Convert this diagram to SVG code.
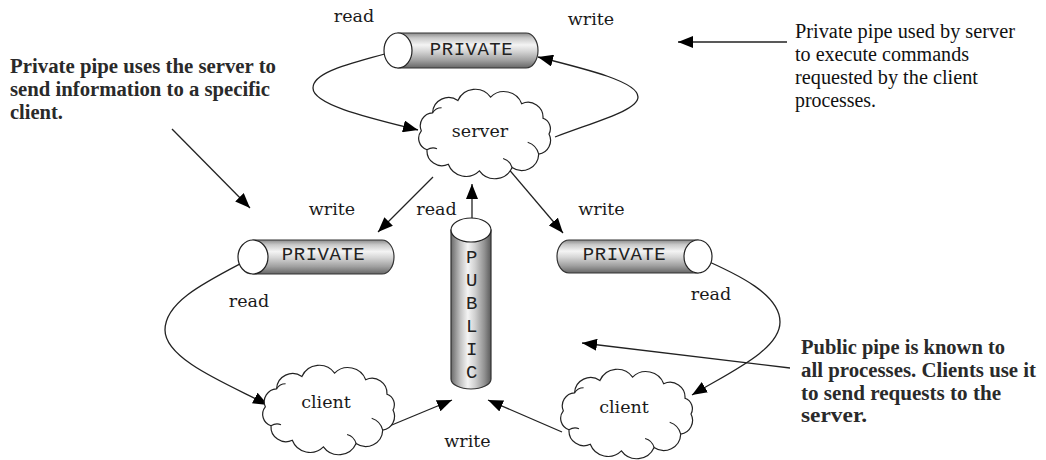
<svg xmlns="http://www.w3.org/2000/svg" width="1046" height="460" viewBox="0 0 1046 460">
  <style>
    .lbl { font-family: "DejaVu Serif", "Liberation Serif", serif; font-size: 17.5px; fill: #1a1a1a; text-anchor: middle; }
    .mono { font-family: "Liberation Mono", "Courier New", monospace; font-size: 19px; letter-spacing: 0.5px; fill: #222; text-anchor: middle; }
    .note { font-family: "Liberation Serif", "Times New Roman", serif; font-size: 20px; fill: #111; }
    .noteb { font-family: "Liberation Serif", "Times New Roman", serif; font-size: 20.5px; font-weight: bold; fill: #2a2a2a; }
    .pipe { stroke: #333; stroke-width: 1.2; }
    .cap { fill: #fff; stroke: #222; stroke-width: 1.2; }
    .cloud { fill: #fff; stroke: #222; stroke-width: 1.2; }
    .curl { fill: none; stroke: #222; stroke-width: 1.1; }
    .conn { fill: none; stroke: #222; stroke-width: 1.3; }
  </style>
  <defs>
    <linearGradient id="gradH" x1="0" y1="0" x2="0" y2="1">
      <stop offset="0" stop-color="#8a8a8a"/>
      <stop offset="0.14" stop-color="#c8c8c8"/>
      <stop offset="0.34" stop-color="#f4f4f4"/>
      <stop offset="0.52" stop-color="#d6d6d6"/>
      <stop offset="0.78" stop-color="#a0a0a0"/>
      <stop offset="1" stop-color="#666"/>
    </linearGradient>
    <linearGradient id="gradV" x1="0" y1="0" x2="1" y2="0">
      <stop offset="0" stop-color="#6a6a6a"/>
      <stop offset="0.24" stop-color="#c4c4c4"/>
      <stop offset="0.42" stop-color="#f4f4f4"/>
      <stop offset="0.6" stop-color="#d0d0d0"/>
      <stop offset="0.84" stop-color="#909090"/>
      <stop offset="1" stop-color="#5a5a5a"/>
    </linearGradient>
    <marker id="arrow" viewBox="0 0 15 12" refX="15" refY="6" markerWidth="15" markerHeight="12" orient="auto" markerUnits="userSpaceOnUse">
      <path d="M0,0 L15,6 L0,12 Z" fill="#000"/>
    </marker>
    <!-- bumpy cloud outline centred on the origin -->
    <g id="cloudShape">
      <path class="cloud" d="M64,0 A14,14 0 0 1 53.7,20.2 A17,17 0 0 1 27.1,33.5 A19,19 0 0 1 -5.6,36.9 A19,19 0 0 1 -36.7,30.3 A15,15 0 0 1 -58,15.7 A12,12 0 0 1 -63.7,-3.2 A13,13 0 0 1 -52.4,-21.2 A16,16 0 0 1 -27.1,-33.5 A19,19 0 0 1 5.6,-36.9 A19,19 0 0 1 36.7,-30.3 A15,15 0 0 1 58,-15.7 A11,11 0 0 1 64,0 Z"/>
      <path class="curl" d="M-52.4,-21.2 q3,-5 9,-5"/>
      <path class="curl" d="M53.7,20.2 q-2,-9 -11,-12"/>
      <path class="curl" d="M27.1,33.5 q-2,-7 -9,-9"/>
      <path class="curl" d="M-58,15.7 q5,-3 10,-1"/>
    </g>
  </defs>

  <rect width="1046" height="460" fill="#fff"/>

  <!-- connectors -->
  <g id="connectors">
    <path class="conn" d="M398,50 C360,62 313,70 313,88 C313,105 370,118 418,130" marker-end="url(#arrow)"/>
    <path class="conn" d="M555,137 C600,120 638,110 638,97 C638,82 590,70 538,57" marker-end="url(#arrow)"/>
    <path class="conn" d="M433,177 L378,232" marker-end="url(#arrow)"/>
    <path class="conn" d="M507,167 L563,233" marker-end="url(#arrow)"/>
    <path class="conn" d="M472,228 L472,184" marker-end="url(#arrow)"/>
    <path class="conn" d="M253,257 C210,280 165,300 165,330 C165,360 230,385 268,405" marker-end="url(#arrow)"/>
    <path class="conn" d="M698,257 C740,275 780,295 780,322 C780,350 730,372 692,395" marker-end="url(#arrow)"/>
    <path class="conn" d="M387,427 L452,400" marker-end="url(#arrow)"/>
    <path class="conn" d="M562,432 L488,400" marker-end="url(#arrow)"/>
    <path class="conn" d="M787,42 L678,42" marker-end="url(#arrow)"/>
    <path class="conn" d="M172,129 L250,208" marker-end="url(#arrow)"/>
    <path class="conn" d="M790,368 L582,343" marker-end="url(#arrow)"/>
  </g>

  <!-- pipes -->
  <g id="pipe-private-top">
    <path class="pipe" fill="url(#gradH)" d="M398,33 L526,33 A12,17.5 0 0 1 526,68 L398,68 Z"/>
    <ellipse class="cap" cx="398" cy="50.5" rx="14" ry="17.5"/>
    <text class="mono" x="471.5" y="55">PRIVATE</text>
  </g>
  <g id="pipe-private-left">
    <path class="pipe" fill="url(#gradH)" d="M253,240 L382,240 A12,17 0 0 1 382,274 L253,274 Z"/>
    <ellipse class="cap" cx="253" cy="257" rx="15" ry="17"/>
    <text class="mono" x="323.5" y="260">PRIVATE</text>
  </g>
  <g id="pipe-private-right">
    <path class="pipe" fill="url(#gradH)" d="M698,240 L569,240 A12,16.5 0 0 0 569,273 L698,273 Z"/>
    <ellipse class="cap" cx="698" cy="256.5" rx="14" ry="16.5"/>
    <text class="mono" x="624.5" y="260">PRIVATE</text>
  </g>
  <g id="pipe-public">
    <path class="pipe" fill="url(#gradV)" d="M451,230 L451,379 A20,10 0 0 0 491,379 L491,230 Z"/>
    <ellipse class="cap" cx="471" cy="230" rx="20" ry="12"/>
    <text class="mono" x="472" y="263">P</text>
    <text class="mono" x="472" y="286">U</text>
    <text class="mono" x="472" y="309">B</text>
    <text class="mono" x="472" y="332">L</text>
    <text class="mono" x="472" y="355">I</text>
    <text class="mono" x="472" y="378">C</text>
  </g>

  <!-- processes -->
  <g id="server">
    <use href="#cloudShape" transform="translate(485,134)"/>
    <text class="lbl" x="480" y="137">server</text>
  </g>
  <g id="client-left">
    <use href="#cloudShape" transform="translate(329,410)"/>
    <text class="lbl" x="326" y="408">client</text>
  </g>
  <g id="client-right">
    <use href="#cloudShape" transform="translate(627,414)"/>
    <text class="lbl" x="624" y="413">client</text>
  </g>

  <!-- pipe end labels -->
  <g id="labels">
    <text class="lbl" x="354" y="22">read</text>
    <text class="lbl" x="591" y="25">write</text>
    <text class="lbl" x="332" y="215">write</text>
    <text class="lbl" x="436.5" y="215">read</text>
    <text class="lbl" x="601.5" y="215">write</text>
    <text class="lbl" x="249" y="307">read</text>
    <text class="lbl" x="711" y="300">read</text>
    <text class="lbl" x="467.5" y="447">write</text>
  </g>

  <!-- explanatory notes -->
  <g id="note-left">
    <text class="noteb" x="10" y="73" textLength="266" lengthAdjust="spacingAndGlyphs">Private pipe uses the server to</text>
    <text class="noteb" x="10" y="96" textLength="260" lengthAdjust="spacingAndGlyphs">send information to a specific</text>
    <text class="noteb" x="10" y="119" textLength="53" lengthAdjust="spacingAndGlyphs">client.</text>
  </g>
  <g id="note-top-right">
    <text class="note" x="795" y="38" textLength="220" lengthAdjust="spacingAndGlyphs">Private pipe used by server</text>
    <text class="note" x="795" y="61" textLength="174" lengthAdjust="spacingAndGlyphs">to execute commands</text>
    <text class="note" x="795" y="84" textLength="183" lengthAdjust="spacingAndGlyphs">requested by the client</text>
    <text class="note" x="795" y="107" textLength="81" lengthAdjust="spacingAndGlyphs">processes.</text>
  </g>
  <g id="note-bottom-right">
    <text class="noteb" x="801" y="354" textLength="204" lengthAdjust="spacingAndGlyphs">Public pipe is known to</text>
    <text class="noteb" x="801" y="377" textLength="235" lengthAdjust="spacingAndGlyphs">all processes. Clients use it</text>
    <text class="noteb" x="801" y="400" textLength="200" lengthAdjust="spacingAndGlyphs">to send requests to the</text>
    <text class="noteb" x="801" y="422" textLength="66" lengthAdjust="spacingAndGlyphs">server.</text>
  </g>
</svg>
